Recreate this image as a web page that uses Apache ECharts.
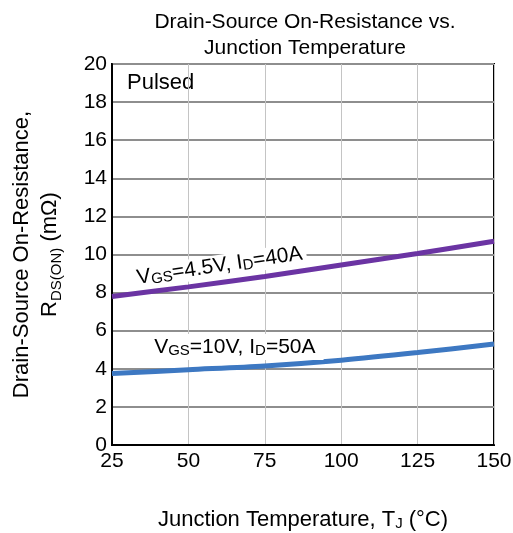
<!DOCTYPE html>
<html>
<head>
<meta charset="utf-8">
<script src="https://cdn.jsdelivr.net/npm/echarts@6/dist/echarts.min.js"></script>
<style>
  html, body { margin: 0; padding: 0; background: #fff; }
  #chart { width: 513px; height: 533px; }
</style>
</head>
<body>
<div id="chart"></div>
<script>
const temps = [25, 50, 75, 100, 125, 150];
const rdsVgs45 = [7.8, 8.3, 8.85, 9.45, 10.05, 10.7];
const rdsVgs10 = [3.75, 3.95, 4.15, 4.45, 4.85, 5.3];

const font = "Liberation Sans";
const purple = "#6b34a3";
const blue = "#3d78c2";

const chart = echarts.init(document.getElementById("chart"));

const rich = {
  a: { fontFamily: font, fontSize: 21, color: "#000" },
  s: { fontFamily: font, fontSize: 15, color: "#000", verticalAlign: "bottom", padding: [7, 0, 0, 0] }
};
const nameRich = {
  a: { fontFamily: font, fontSize: 22, color: "#000" },
  s: { fontFamily: font, fontSize: 15, color: "#000", verticalAlign: "bottom", padding: [7, 0, 0, 0] }
};

chart.setOption({
  backgroundColor: "#fff",
  animation: false,
  title: {
    text: "Drain-Source On-Resistance vs.\nJunction Temperature",
    left: 300,
    top: 4,
    textAlign: "center",
    textStyle: { fontFamily: font, fontSize: 21, fontWeight: "normal", color: "#000", lineHeight: 26 }
  },
  grid: {
    left: 112, right: 19, top: 64, bottom: 88,
    outerBoundsMode: "none",
    containLabel: false,
    show: true, borderColor: "#000", borderWidth: 2, backgroundColor: "transparent"
  },
  xAxis: {
    type: "value",
    min: 25,
    max: 150,
    interval: 25,
    axisLine: { show: true, lineStyle: { color: "#000", width: 2 } },
    axisTick: { show: false },
    axisLabel: { fontFamily: font, fontSize: 21, color: "#000", margin: 6 },
    splitLine: { show: true, lineStyle: { color: "#c4c4c4", width: 1 } },
    name: "{a|Junction Temperature, T}{s|J}{a| (°C)}",
    nameLocation: "middle",
    nameGap: 64,
    nameTextStyle: { rich: nameRich }
  },
  yAxis: {
    type: "value",
    min: 0,
    max: 20,
    interval: 2,
    axisLine: { show: true, lineStyle: { color: "#000", width: 2 } },
    axisTick: { show: false },
    axisLabel: { fontFamily: font, fontSize: 21, color: "#000", margin: 5 },
    splitLine: { show: true, lineStyle: { color: "#8e8e8e", width: 2 } },
    name: "{a|Drain-Source On-Resistance,}\n{a|R}{s|DS(ON)}{a| (mΩ)}",
    nameLocation: "middle",
    nameRotate: 90,
    nameGap: 48,
    nameTextStyle: { lineHeight: 28, align: "center", rich: nameRich }
  },
  graphic: [
    { type: "text", left: 127, top: 72, style: { text: "Pulsed", fontFamily: font, fontSize: 22, fill: "#000" } }
  ],
  series: [
    {
      name: "VGS=4.5V, ID=40A",
      type: "line",
      smooth: 0.3,
      symbol: "none",
      lineStyle: { color: purple, width: 5 },
      data: temps.map((t, i) => [t, rdsVgs45[i]]),
      markPoint: {
        symbol: "circle",
        symbolSize: 0,
        data: [{ coord: [60.2, 9.4] }],
        label: {
          show: true,
          position: "inside",
          rotate: 8.5,
          backgroundColor: "#fff",
          padding: [0, 4, 0, 4],
          formatter: "{a|V}{s|GS}{a|=4.5V, I}{s|D}{a|=40A}",
          rich
        }
      }
    },
    {
      name: "VGS=10V, ID=50A",
      type: "line",
      smooth: 0.3,
      symbol: "none",
      lineStyle: { color: blue, width: 5 },
      data: temps.map((t, i) => [t, rdsVgs10[i]]),
      markPoint: {
        symbol: "circle",
        symbolSize: 0,
        data: [{ coord: [65.2, 5.14] }],
        label: {
          show: true,
          position: "inside",
          backgroundColor: "#fff",
          padding: [2, 8, 2, 8],
          formatter: "{a|V}{s|GS}{a|=10V, I}{s|D}{a|=50A}",
          rich
        }
      }
    }
  ]
});
</script>
</body>
</html>
